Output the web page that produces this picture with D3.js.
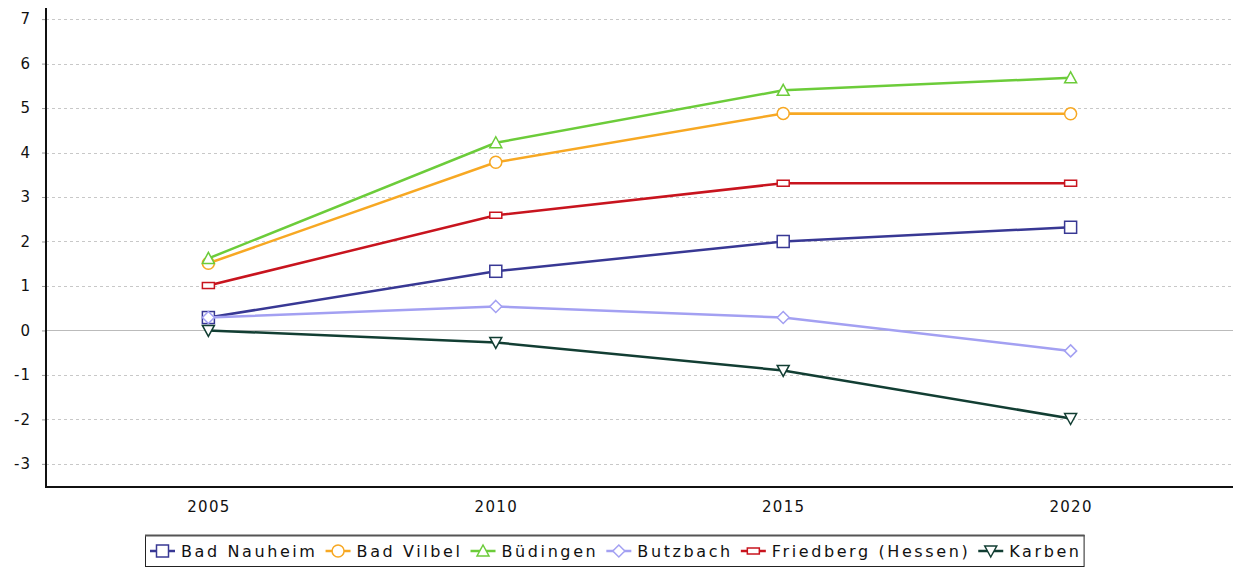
<!DOCTYPE html>
<html>
<head>
<meta charset="utf-8">
<script src="https://cdn.jsdelivr.net/npm/d3@7"></script>
<style>
  body { margin: 0; background: #fff; }
  svg { display: block; font-family: "DejaVu Sans", sans-serif; }
  .grid line { stroke: #c8c8c8; stroke-dasharray: 3,3; }
</style>
</head>
<body>
<div id="chart"></div>
<script>
  var years = ["2005", "2010", "2015", "2020"];
  var yTicks = [-3, -2, -1, 0, 1, 2, 3, 4, 5, 6, 7];

  var badNauheim = [0.29, 1.33, 2.0, 2.32];
  var badVilbel = [1.51, 3.78, 4.88, 4.87];
  var buedingen = [1.62, 4.22, 5.4, 5.68];
  var butzbach = [0.29, 0.54, 0.29, -0.46];
  var friedberg = [1.01, 2.59, 3.31, 3.31];
  var karben = [0.0, -0.27, -0.9, -1.98];

  var series = [
    {name: "Bad Nauheim", values: badNauheim, color: "#383894", symbol: "square"},
    {name: "Bad Vilbel", values: badVilbel, color: "#f7a823", symbol: "circle"},
    {name: "Büdingen", values: buedingen, color: "#6ccc3a", symbol: "triangleUp"},
    {name: "Butzbach", values: butzbach, color: "#a3a0f2", symbol: "diamond"},
    {name: "Friedberg (Hessen)", values: friedberg, color: "#c8141e", symbol: "rect"},
    {name: "Karben", values: karben, color: "#123e33", symbol: "triangleDown"}
  ];

  var width = 1233, height = 576;
  var margin = {top: 8, right: 0, bottom: 89, left: 46};

  var svg = d3.select("#chart").append("svg")
    .attr("width", width)
    .attr("height", height);

  var x = d3.scalePoint().domain(years)
    .range([margin.left, width - margin.right]).padding(0.565);
  var y = d3.scaleLinear().domain([-3.52, 7.25])
    .range([height - margin.bottom, margin.top]);

  // grid
  svg.append("g").attr("class", "grid")
    .selectAll("line").data(yTicks).enter().append("line")
    .attr("x1", margin.left).attr("x2", width)
    .attr("y1", function(d) { return Math.round(y(d)) + 0.5; })
    .attr("y2", function(d) { return Math.round(y(d)) + 0.5; })
    .style("stroke-dasharray", function(d) { return d === 0 ? "none" : null; })
    .style("stroke", function(d) { return d === 0 ? "#bbb" : null; });

  // Y axis
  var yAxis = svg.append("g")
    .attr("transform", "translate(" + margin.left + ",0)")
    .call(d3.axisLeft(y).tickValues(yTicks).tickSize(4).tickPadding(11)
      .tickFormat(function(d) { return String(d); }));
  yAxis.select(".domain").remove();
  yAxis.selectAll(".tick line").attr("stroke", "#999");
  yAxis.selectAll("text")
    .attr("font-family", "DejaVu Sans, sans-serif")
    .attr("font-size", 15).attr("fill", "#111")
    .style("letter-spacing", "1px");

  // X axis
  var xAxis = svg.append("g")
    .attr("transform", "translate(0," + (height - margin.bottom) + ")")
    .call(d3.axisBottom(x).tickSize(0).tickPadding(14));
  xAxis.select(".domain").remove();
  xAxis.selectAll("text")
    .attr("font-family", "DejaVu Sans, sans-serif")
    .attr("font-size", 15).attr("fill", "#111")
    .style("letter-spacing", "1.3px");

  // axis lines
  svg.append("line")
    .attr("x1", margin.left).attr("x2", margin.left)
    .attr("y1", margin.top).attr("y2", height - margin.bottom)
    .attr("stroke", "#111").attr("stroke-width", 2);
  svg.append("line")
    .attr("x1", margin.left - 1).attr("x2", width)
    .attr("y1", height - margin.bottom).attr("y2", height - margin.bottom)
    .attr("stroke", "#111").attr("stroke-width", 2);

  function drawSymbol(g, type, cx, cy, color) {
    if (type === "square") {
      g.append("rect").attr("x", cx - 6).attr("y", cy - 6).attr("width", 12).attr("height", 12)
        .attr("fill", "#fff").attr("stroke", color).attr("stroke-width", 1.5);
    } else if (type === "circle") {
      g.append("circle").attr("cx", cx).attr("cy", cy).attr("r", 6)
        .attr("fill", "#fff").attr("stroke", color).attr("stroke-width", 1.5);
    } else if (type === "triangleUp") {
      g.append("path").attr("d", "M" + cx + "," + (cy - 6) + "L" + (cx + 6) + "," + (cy + 5) + "L" + (cx - 6) + "," + (cy + 5) + "Z")
        .attr("fill", "#fff").attr("stroke", color).attr("stroke-width", 1.5);
    } else if (type === "triangleDown") {
      g.append("path").attr("d", "M" + cx + "," + (cy + 6) + "L" + (cx + 6) + "," + (cy - 5) + "L" + (cx - 6) + "," + (cy - 5) + "Z")
        .attr("fill", "#fff").attr("stroke", color).attr("stroke-width", 1.5);
    } else if (type === "diamond") {
      g.append("path").attr("d", "M" + cx + "," + (cy - 6) + "L" + (cx + 6) + "," + cy + "L" + cx + "," + (cy + 6) + "L" + (cx - 6) + "," + cy + "Z")
        .attr("fill", "#fff").attr("stroke", color).attr("stroke-width", 1.5);
    } else if (type === "rect") {
      g.append("rect").attr("x", cx - 6).attr("y", cy - 3).attr("width", 12).attr("height", 6)
        .attr("fill", "#fff").attr("stroke", color).attr("stroke-width", 1.5);
    }
  }

  var line = d3.line()
    .x(function(d, i) { return x(years[i]); })
    .y(function(d) { return y(d); });

  series.forEach(function(s) {
    var g = svg.append("g");
    g.append("path").datum(s.values)
      .attr("d", line)
      .attr("fill", "none")
      .attr("stroke", s.color)
      .attr("stroke-width", 2.5);
    s.values.forEach(function(v, i) {
      drawSymbol(g, s.symbol, x(years[i]), y(v), s.color);
    });
  });

  // Legend
  var legend = svg.append("g");
  var lx = 145, ly = 535, lh = 31;
  var legendBox = legend.append("rect")
    .attr("x", lx + 0.5).attr("y", ly + 0.5)
    .attr("height", lh)
    .attr("fill", "#fff").attr("stroke", "#222").attr("stroke-width", 1);

  var cursor = lx + 5;
  series.forEach(function(s) {
    var cy = ly + lh / 2 + 0.5;
    legend.append("line")
      .attr("x1", cursor).attr("x2", cursor + 25)
      .attr("y1", cy).attr("y2", cy)
      .attr("stroke", s.color).attr("stroke-width", 2.5);
    drawSymbol(legend, s.symbol, cursor + 12.5, cy, s.color);
    var t = legend.append("text")
      .attr("x", cursor + 31).attr("y", cy + 5.5)
      .attr("font-size", 16)
      .attr("fill", "#111")
      .style("letter-spacing", "2.6px")
      .text(s.name);
    cursor += 31 + t.node().getComputedTextLength() + 8;
  });
  legendBox.attr("width", cursor - lx - 6);
  legend.append("line")
    .attr("x1", lx).attr("x2", lx + (cursor - lx - 6) + 1)
    .attr("y1", ly + 0.5).attr("y2", ly + 0.5)
    .attr("stroke", "#555").attr("stroke-width", 2);
</script>
</body>
</html>
